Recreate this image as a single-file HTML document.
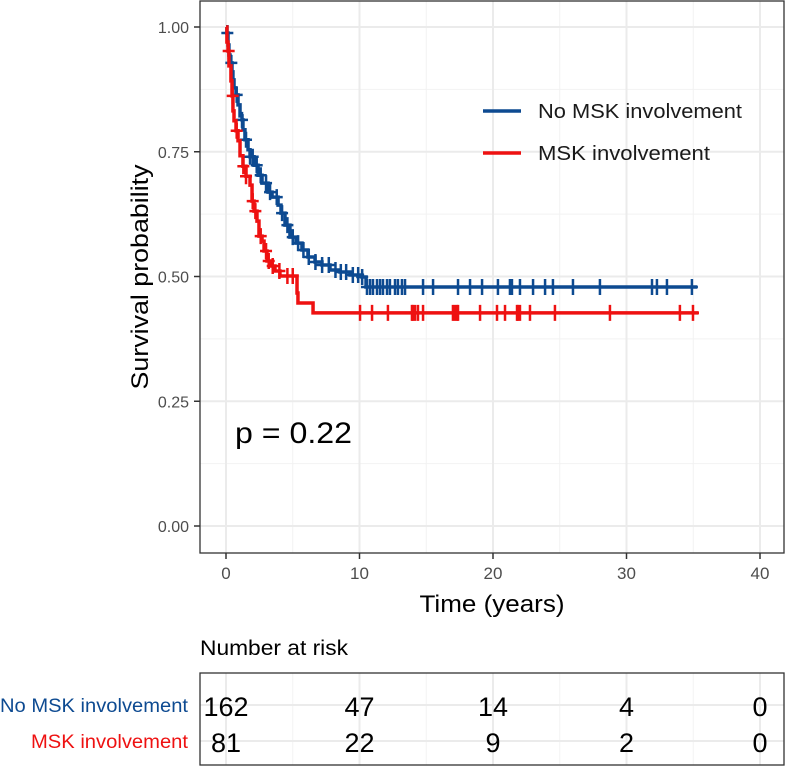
<!DOCTYPE html>
<html><head><meta charset="utf-8">
<style>
body{margin:0;background:#fff;}
svg text{font-family:"Liberation Sans",Arial,sans-serif;}
</style></head>
<body>
<svg id="chart" width="786" height="767" xmlns="http://www.w3.org/2000/svg"></svg>
<script>
const xTicks=[0,10,20,30,40];
const yTicks=[0,0.25,0.5,0.75,1.0];
const yTickLabels=["0.00","0.25","0.50","0.75","1.00"];
const blueTimes=[0,0.07,0.15,0.22,0.30,0.45,0.52,0.60,0.75,0.90,1.05,1.20,1.27,1.42,1.65,1.80,2.10,2.40,2.70,3.15,3.45,3.90,4.12,4.42,4.79,5.24,5.69,6.14,6.67,7.19,7.79,8.54,9.29,10.19,10.49];
const blueSurv=[1,0.988,0.964,0.944,0.928,0.910,0.894,0.878,0.864,0.844,0.822,0.814,0.794,0.774,0.754,0.740,0.723,0.703,0.687,0.669,0.659,0.643,0.627,0.603,0.579,0.567,0.553,0.539,0.529,0.523,0.513,0.509,0.503,0.499,0.479];
const blueEnd=35.3;
const blueCensor=[0.1,0.4,0.8,1.2,1.5,1.8,2.0,2.3,2.6,3.0,3.3,3.8,4.2,4.6,5.0,5.4,5.8,6.2,6.7,7.2,7.7,8.2,8.6,9.0,9.5,9.9,10.2,10.56,10.79,11.01,11.31,11.54,11.76,12.06,12.28,12.66,12.88,13.18,13.41,14.76,15.51,17.38,18.28,19.18,20.37,21.27,21.42,22.02,23.0,23.9,24.49,25.99,28.01,31.91,32.28,33.03,34.9];
const redTimes=[0,0.07,0.15,0.22,0.37,0.45,0.52,0.60,0.75,0.90,1.05,1.27,1.50,1.80,1.95,2.10,2.32,2.47,2.70,2.85,3.07,3.30,3.67,4.04,5.32,5.39,6.52];
const redSurv=[1,0.97,0.952,0.922,0.892,0.862,0.832,0.812,0.792,0.772,0.742,0.721,0.701,0.683,0.651,0.631,0.611,0.581,0.571,0.551,0.531,0.521,0.511,0.501,0.467,0.447,0.427];
const redEnd=35.4;
const redCensor=[0.2,0.5,0.8,1.3,1.5,2.0,2.2,2.6,3.0,3.2,3.5,4.0,4.6,5.0,10.04,10.94,12.13,13.93,14.0,14.16,14.38,14.76,17.0,17.15,17.3,17.38,19.03,20.3,20.9,21.8,21.87,22.02,22.77,24.64,28.76,34.0,34.98];
const riskBlue=[162,47,14,4,0];
const riskRed=[81,22,9,2,0];

const NS="http://www.w3.org/2000/svg";
const svg=document.getElementById('chart');
const X=t=>226+t*13.35;
const Y=s=>526-s*499;
function el(tag,attrs,parent){const e=document.createElementNS(NS,tag);for(const k in attrs)e.setAttribute(k,attrs[k]);(parent||svg).appendChild(e);return e;}
function txt(s,attrs){const e=el('text',attrs);e.textContent=s;return e;}

let p=el('rect',{x:200,y:1,width:584,height:552,fill:'#fff'});


for(let t=5;t<=40;t+=10){el('line',{x1:X(t),x2:X(t),y1:1,y2:553,stroke:'#f2f2f2','stroke-width':1});}
for(let s=0.125;s<1.1;s+=0.25){el('line',{x1:200,x2:784,y1:Y(s),y2:Y(s),stroke:'#f2f2f2','stroke-width':1});}
xTicks.forEach(t=>{el('line',{x1:X(t),x2:X(t),y1:1,y2:553,stroke:'#ebebeb','stroke-width':2});
 el('line',{x1:X(t),x2:X(t),y1:553,y2:559,stroke:'#333','stroke-width':1.5});
 const l=txt(String(t),{x:X(t),y:579,'text-anchor':'middle','font-size':17,fill:'#4d4d4d'});
 
 });
yTicks.forEach((s,i)=>{el('line',{x1:200,x2:784,y1:Y(s),y2:Y(s),stroke:'#ebebeb','stroke-width':2});
 el('line',{x1:194,x2:200,y1:Y(s),y2:Y(s),stroke:'#333','stroke-width':1.5});
 const l=txt(yTickLabels[i],{x:189,y:Y(s)+6,'text-anchor':'end','font-size':16,fill:'#4d4d4d'});
 
 });

function stepAt(times,surv,t){let s=surv[0];for(let i=0;i<times.length;i++){if(times[i]<=t)s=surv[i];}return s;}
function drawCurve(times,surv,end,cens,color,name){
 let d=`M${X(times[0])},${Y(surv[0])}`;
 for(let i=1;i<times.length;i++){d+=`H${X(times[i])}V${Y(surv[i])}`;}
 d+=`H${X(end)}`;
 const path=el('path',{d:d,fill:'none',stroke:color,'stroke-width':3.5});
 
 
 cens.forEach(t=>{const s=stepAt(times,surv,t);
  const c=el('path',{d:`M${X(t)-6},${Y(s)}H${X(t)+6}M${X(t)},${Y(s)-8}V${Y(s)+8}`,stroke:color,'stroke-width':2.5,fill:'none'});
  
  });
}
drawCurve(blueTimes,blueSurv,blueEnd,blueCensor,'#0d4a91','no-msk');
drawCurve(redTimes,redSurv,redEnd,redCensor,'#ee1111','msk');
let b=el('rect',{x:200,y:1,width:584,height:552,fill:'none',stroke:'#333','stroke-width':1.3});



let g=el('g',{});


el('line',{x1:483,x2:521,y1:111,y2:111,stroke:'#0d4a91','stroke-width':3.5},g);
el('line',{x1:483,x2:521,y1:153,y2:153,stroke:'#ee1111','stroke-width':3.5},g);
let t1=txt('No MSK involvement',{x:538,y:118,'font-size':20,fill:'#1a1a1a','textLength':204,'lengthAdjust':'spacingAndGlyphs'});g.appendChild(t1);


let t2=txt('MSK involvement',{x:538,y:160,'font-size':20,fill:'#1a1a1a','textLength':172,'lengthAdjust':'spacingAndGlyphs'});g.appendChild(t2);



let pv=txt('p = 0.22',{x:235,y:443,'font-size':30,fill:'#000','textLength':117,'lengthAdjust':'spacingAndGlyphs'});


let yt=txt('Survival probability',{x:0,y:0,'font-size':24,fill:'#000','text-anchor':'middle','textLength':225,'lengthAdjust':'spacingAndGlyphs',transform:'translate(148,277) rotate(-90)'});


let xt=txt('Time (years)',{x:492,y:612,'font-size':24,fill:'#000','text-anchor':'middle','textLength':145,'lengthAdjust':'spacingAndGlyphs'});



let rt=txt('Number at risk',{x:200,y:655,'font-size':21,fill:'#000','textLength':148,'lengthAdjust':'spacingAndGlyphs'});


el('rect',{x:200,y:673,width:584,height:92,fill:'#fff'});
for(let t=5;t<=40;t+=10){el('line',{x1:X(t),x2:X(t),y1:673,y2:765,stroke:'#f2f2f2'});}
xTicks.forEach(t=>el('line',{x1:X(t),x2:X(t),y1:673,y2:765,stroke:'#ebebeb','stroke-width':2}));
el('line',{x1:200,x2:784,y1:705,y2:705,stroke:'#ebebeb','stroke-width':2});
el('line',{x1:200,x2:784,y1:741,y2:741,stroke:'#ebebeb','stroke-width':2});
let rb=el('rect',{x:200,y:673,width:584,height:92,fill:'none',stroke:'#333','stroke-width':1.3});


let l1=txt('No MSK involvement',{x:188,y:712,'font-size':19,fill:'#0d4a91','text-anchor':'end','textLength':188,'lengthAdjust':'spacingAndGlyphs'});


let l2=txt('MSK involvement',{x:188,y:748,'font-size':19,fill:'#ee1111','text-anchor':'end','textLength':157,'lengthAdjust':'spacingAndGlyphs'});


function riskX(i){let x=X(xTicks[i]);return Math.min(Math.max(x,224),762);}
riskBlue.forEach((v,i)=>{const e=txt(String(v),{x:riskX(i),y:716,'font-size':27,'text-anchor':'middle',fill:'#000'});
 
 });
riskRed.forEach((v,i)=>{const e=txt(String(v),{x:riskX(i),y:752,'font-size':27,'text-anchor':'middle',fill:'#000'});
 
 });
</script>
</body></html>
